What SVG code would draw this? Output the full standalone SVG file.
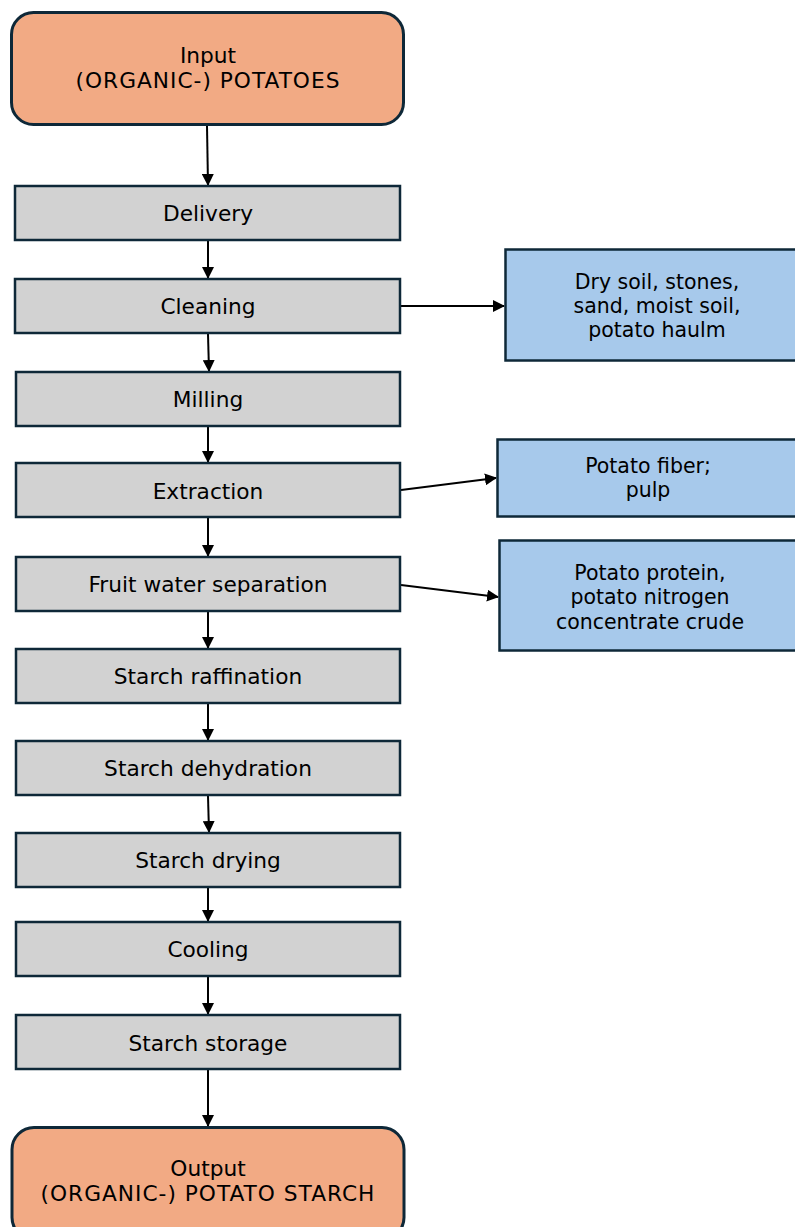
<svg xmlns="http://www.w3.org/2000/svg" width="795" height="1227" viewBox="0 0 795 1227">
<defs>
<marker id="ah" markerWidth="12" markerHeight="12" refX="11" refY="6" orient="auto" markerUnits="userSpaceOnUse">
<path d="M0,0 L12,6 L0,12 Z" fill="#000"/>
</marker>
<style>
.io{fill:#f2aa84;stroke:#0e2838;stroke-width:3}
.st{fill:#d2d2d2;stroke:#0e2838;stroke-width:2.5}
.bp{fill:#a7c9eb;stroke:#0e2838;stroke-width:2.5}
text{font-family:"DejaVu Sans","Verdana",sans-serif;font-size:21.7px;fill:#000;text-anchor:middle}
text.s{font-size:20.5px}
text.cap{letter-spacing:1px}
.c{stroke:#000;stroke-width:2;fill:none;marker-end:url(#ah)}
</style>
</defs>
<rect width="795" height="1227" fill="#fff"/>
<g id="connectors">
<line class="c" x1="207" y1="126" x2="208" y2="185"/>
<line class="c" x1="208" y1="241" x2="208" y2="278"/>
<line class="c" x1="208" y1="334" x2="209" y2="371"/>
<line class="c" x1="208" y1="427" x2="208" y2="462"/>
<line class="c" x1="208" y1="518" x2="208" y2="556"/>
<line class="c" x1="208" y1="612" x2="208" y2="648"/>
<line class="c" x1="208" y1="704" x2="208" y2="740"/>
<line class="c" x1="208" y1="796" x2="209" y2="832"/>
<line class="c" x1="208" y1="888" x2="208" y2="921"/>
<line class="c" x1="208" y1="977" x2="208" y2="1014"/>
<line class="c" x1="208" y1="1070" x2="208" y2="1126"/>
<line class="c" x1="401" y1="306" x2="504" y2="306"/>
<line class="c" x1="401" y1="490" x2="496" y2="478"/>
<line class="c" x1="401" y1="585" x2="498" y2="597"/>
</g>
<g id="input"><rect class="io" x="11.5" y="12.5" width="392" height="112" rx="22"/><text x="208" y="63">Input</text><text class="cap" x="208" y="88">(ORGANIC-) POTATOES</text></g>
<g id="delivery"><rect class="st" x="15" y="186" width="385" height="54"/><text x="208" y="221">Delivery</text></g>
<g id="cleaning"><rect class="st" x="15" y="279" width="385" height="54"/><text x="208" y="314">Cleaning</text></g>
<g id="milling"><rect class="st" x="16" y="372" width="384" height="54"/><text x="208" y="407">Milling</text></g>
<g id="extraction"><rect class="st" x="16" y="463" width="384" height="54"/><text x="208" y="499">Extraction</text></g>
<g id="fruit-water"><rect class="st" x="16" y="557" width="384" height="54"/><text x="208" y="592">Fruit water separation</text></g>
<g id="raffination"><rect class="st" x="16" y="649" width="384" height="54"/><text x="208" y="684">Starch raffination</text></g>
<g id="dehydration"><rect class="st" x="16" y="741" width="384" height="54"/><text x="208" y="776">Starch dehydration</text></g>
<g id="drying"><rect class="st" x="16" y="833" width="384" height="54"/><text x="208" y="868">Starch drying</text></g>
<g id="cooling"><rect class="st" x="16" y="922" width="384" height="54"/><text x="208" y="957">Cooling</text></g>
<g id="storage"><rect class="st" x="16" y="1015" width="384" height="54"/><text x="208" y="1051">Starch storage</text></g>
<g id="output"><rect class="io" x="12" y="1127.5" width="392" height="112" rx="22"/><text x="208" y="1176">Output</text><text class="cap" x="208" y="1201">(ORGANIC-) POTATO STARCH</text></g>
<g id="soil"><rect class="bp" x="505.5" y="249.5" width="300" height="111"/><text class="s" x="657" y="289">Dry soil, stones,</text><text class="s" x="657" y="313">sand, moist soil,</text><text class="s" x="657" y="337">potato haulm</text></g>
<g id="fiber"><rect class="bp" x="497.5" y="439.5" width="310" height="77"/><text class="s" x="648" y="473">Potato fiber;</text><text class="s" x="648" y="497">pulp</text></g>
<g id="protein"><rect class="bp" x="499.5" y="540.5" width="310" height="110"/><text class="s" x="650" y="580">Potato protein,</text><text class="s" x="650" y="604">potato nitrogen</text><text class="s" x="650" y="629">concentrate crude</text></g>
</svg>
